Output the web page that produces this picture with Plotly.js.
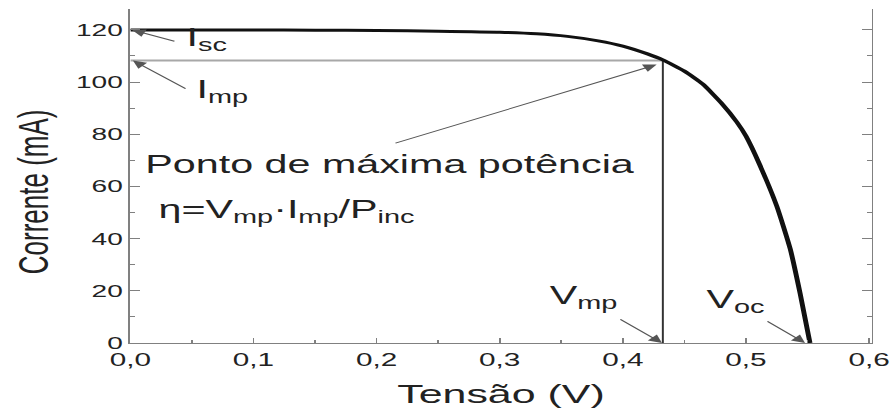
<!DOCTYPE html>
<html>
<head>
<meta charset="utf-8">
<script src="https://cdn.plot.ly/plotly-3.0.1.min.js"></script>
<style>
  html, body { margin: 0; padding: 0; overflow: hidden; background: #fff; width: 893px; height: 415px; }
  #chart { width: 541px; height: 415px; transform: scaleX(1.6506); transform-origin: 0 0; }
</style>
</head>
<body>
<div id="chart"></div>
<script>
// I-V curve
const tensao   = [0, 0.1, 0.15, 0.2, 0.25, 0.3, 0.33, 0.355, 0.38, 0.4, 0.42, 0.4325, 0.45, 0.465, 0.48, 0.4927, 0.5, 0.511, 0.525, 0.536, 0.544, 0.552];
const corrente = [120, 120, 119.9, 119.8, 119.5, 119.1, 118.5, 117.5, 115.8, 113.8, 110.8, 108.5, 104.2, 99.2, 92, 84.6, 79.3, 68.5, 52.5, 36, 19, 0];

// characteristic points
const Isc = 120;
const Vmp = 0.4325;
const Imp = 108.3;
const Voc = 0.552;

const xTickVals = [0, 0.1, 0.2, 0.3, 0.4, 0.5, 0.6];
const xTickText = ['0,0', '0,1', '0,2', '0,3', '0,4', '0,5', '0,6'];
const yTickVals = [0, 20, 40, 60, 80, 100, 120];

const FONT = 'Liberation Sans, Arial, sans-serif';

const traces = [
  { x: [0, Vmp], y: [Imp, Imp], mode: 'lines', line: { color: '#a8a8a8', width: 2 }, hoverinfo: 'skip' },
  { x: [Vmp, Vmp], y: [Imp, 0], mode: 'lines', line: { color: '#333', width: 1.2 }, hoverinfo: 'skip' },
  { x: tensao, y: corrente, mode: 'lines', line: { color: '#111', width: 3, shape: 'spline', smoothing: 0.5 }, hoverinfo: 'skip' }
];

function arrow(hx, hy, tx, ty) {
  return { x: hx, y: hy, ax: tx, ay: ty, xref: 'x', yref: 'y', axref: 'x', ayref: 'y',
           text: '', showarrow: true, arrowhead: 2, arrowsize: 1.6, arrowwidth: 1,
           arrowcolor: '#555', standoff: 0, startstandoff: 0 };
}
function label(x, y, txt, size) {
  return { x: x, y: y, xref: 'x', yref: 'y', text: txt, showarrow: false,
           xanchor: 'left', yanchor: 'middle', font: { family: FONT, size: size, color: '#222' } };
}

const annotations = [
  arrow(0.0013, Isc, 0.0378, 115.4),
  arrow(0.002, Imp, 0.0468, 97.0),
  arrow(Vmp - 0.005, Imp - 1.6, 0.2133, 76.3),
  arrow(Vmp - 0.0007, 0, 0.396, 9.6),
  arrow(Voc - 0.004, 0, 0.5155, 8.8),
  label(0.043, 116.5, 'I<sub>sc</sub>', 25),
  label(0.0505, 96.4, 'I<sub>mp</sub>', 25),
  label(0.3376, 17.8, 'V<sub>mp</sub>', 25),
  label(0.465, 16.1, 'V<sub>oc</sub>', 25),
  label(0.009, 68.6, 'Ponto de máxima potência', 25),
  label(0.0205, 50.6, 'η=V<sub>mp</sub>·I<sub>mp</sub>/P<sub>inc</sub>', 25),
  { x: -0.131, y: 0.452, xref: 'paper', yref: 'paper', text: 'Corrente (mA)', textangle: -90,
    showarrow: false, xanchor: 'center', yanchor: 'middle', font: { family: FONT, size: 26, color: '#222' } }
];

const layout = {
  width: 541, height: 415,
  margin: { l: 79, r: 13, t: 9, b: 72 },
  paper_bgcolor: '#fff', plot_bgcolor: '#fff',
  showlegend: false,
  separators: ',.',
  font: { family: FONT, color: '#222' },
  xaxis: {
    range: [0, 0.602], showgrid: false, zeroline: false,
    showline: true, linecolor: '#808080', linewidth: 1.4,
    ticks: 'inside', ticklen: 5, tickwidth: 1, tickcolor: '#808080',
    tickvals: xTickVals, ticktext: xTickText,
    minor: { ticks: 'inside', ticklen: 3, tickwidth: 1, tickcolor: '#808080', dtick: 0.05 },
    tickfont: { family: FONT, size: 18, color: '#222' },
    title: { text: 'Tensão (V)', font: { family: FONT, size: 26, color: '#222' }, standoff: 16 }
  },
  yaxis: {
    range: [0, 128], showgrid: false, zeroline: false,
    showline: true, linecolor: '#808080', linewidth: 1.2, mirror: 'ticks',
    ticks: 'inside', ticklen: 6, tickwidth: 1, tickcolor: '#808080',
    tickvals: yTickVals,
    minor: { ticks: 'inside', ticklen: 3, tickwidth: 1, tickcolor: '#808080', dtick: 10 },
    tickfont: { family: FONT, size: 17, color: '#222' }
  },
  annotations: annotations
};

Plotly.newPlot('chart', traces, layout, { staticPlot: true, displayModeBar: false });
</script>
</body>
</html>
